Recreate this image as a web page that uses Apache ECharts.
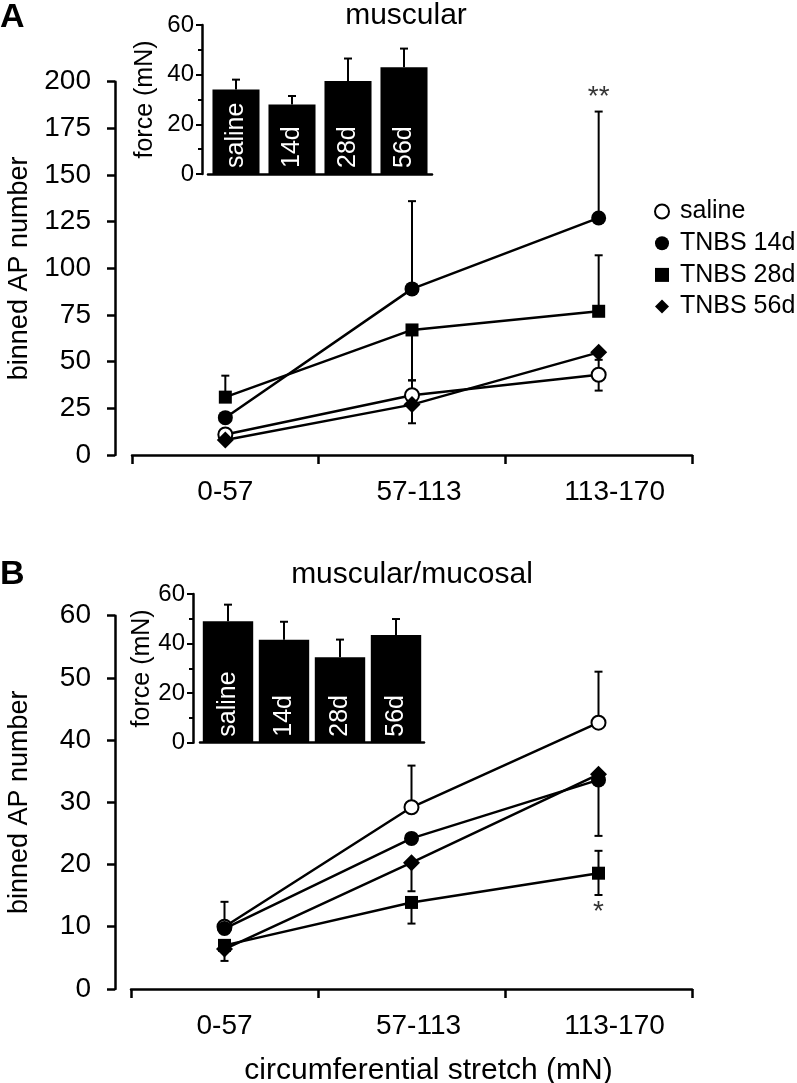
<!DOCTYPE html>
<html>
<head>
<meta charset="utf-8">
<script src="https://cdn.jsdelivr.net/npm/echarts@6/dist/echarts.min.js"></script>
<style>
html,body{margin:0;padding:0;background:#fff;}
#chart{width:797px;height:1083px;}
</style>
</head>
<body>
<div id="chart"></div>
<script>
// ---------- data ----------
const categories = ['0-57', '57-113', '113-170'];
const seriesNames = ['saline', 'TNBS 14d', 'TNBS 28d', 'TNBS 56d'];

// Panel A (muscular)
const aSaline = [11, 32, 43];
const aTnbs14 = [20, 89, 127];
const aTnbs28 = [31, 67, 77];
const aTnbs56 = [8, 27, 55];
const aSalineErrUp = [0, 8, 8];
const aSalineErrDown = [0, 0, 8.5];
const aTnbs14ErrUp = [0, 47, 57];
const aTnbs14ErrDown = [0, 0, 0];
const aTnbs28ErrUp = [11.5, 0, 30];
const aTnbs28ErrDown = [0, 27, 0];
const aTnbs56ErrUp = [0, 0, 0];
const aTnbs56ErrDown = [0, 10, 0];
const aSig = ['', '', '**'];           // above TNBS 14d

// Panel B (muscular/mucosal)
const bSaline = [10, 29.2, 42.8];
const bTnbs14 = [9.7, 24.2, 33.6];
const bTnbs28 = [7.0, 13.9, 18.6];
const bTnbs56 = [6.4, 20.3, 34.5];
const bSalineErrUp = [4, 6.7, 8.2];
const bSalineErrDown = [0, 0, 0];
const bTnbs14ErrUp = [0, 0, 0];
const bTnbs14ErrDown = [0, 0, 9];
const bTnbs28ErrUp = [0, 0, 3.6];
const bTnbs28ErrDown = [2.5, 3.4, 3.5];
const bTnbs56ErrUp = [0, 0, 0];
const bTnbs56ErrDown = [0, 4.6, 0];
const bSig = ['', '', '*'];            // below TNBS 28d

// Insets: force (mN)
const insetCategories = ['saline', '14d', '28d', '56d'];
const aForce = [34, 28, 37.5, 43];
const aForceErr = [4, 3.4, 9, 7.5];
const bForce = [49, 41.5, 34.5, 43.5];
const bForceErr = [6.7, 7.3, 7.1, 6.4];

const mainYTicks = { A: { max: 200, interval: 25 }, B: { max: 60, interval: 10 } };
const insetYTicks = { max: 60, interval: 20 };

// ---------- helpers ----------
const FONT = 'Liberation Sans, Arial, Helvetica, sans-serif';
const BLACK = '#000';
const LW = 2.5;
// horizontal nudge of each category label (the original labels sit a bit right of centre)
const catLabelPad = [0, 14, 32];

function errData(vals, up, down) {
  return vals.map((v, i) => [i, v, up[i], down[i]]);
}
function renderErr(capHalf) {
  return function (params, api) {
    const x = api.value(0), y = api.value(1), up = api.value(2), down = api.value(3);
    if (!(up > 0) && !(down > 0)) return null;
    const top = api.coord([x, y + up]);
    const bot = api.coord([x, y - down]);
    const st = { stroke: BLACK, lineWidth: 2 };
    const children = [{ type: 'line', shape: { x1: top[0], y1: top[1], x2: bot[0], y2: bot[1] }, style: st }];
    if (up > 0) children.push({ type: 'line', shape: { x1: top[0] - capHalf, y1: top[1], x2: top[0] + capHalf, y2: top[1] }, style: st });
    if (down > 0) children.push({ type: 'line', shape: { x1: bot[0] - capHalf, y1: bot[1], x2: bot[0] + capHalf, y2: bot[1] }, style: st });
    return { type: 'group', children };
  };
}
function errSeries(idx, vals, up, down, z) {
  return {
    type: 'custom', xAxisIndex: idx, yAxisIndex: idx, z: z || 2, silent: true,
    renderItem: renderErr(4), data: errData(vals, up, down)
  };
}
const markerStyles = {
  'saline':   { symbol: 'circle',  size: 14, itemStyle: { color: '#fff', borderColor: BLACK, borderWidth: 2 } },
  'TNBS 14d': { symbol: 'circle',  size: 15, itemStyle: { color: BLACK, borderColor: BLACK, borderWidth: 0 } },
  'TNBS 28d': { symbol: 'rect',    size: 13, itemStyle: { color: BLACK, borderColor: BLACK, borderWidth: 0 } },
  'TNBS 56d': { symbol: 'diamond', size: 17, itemStyle: { color: BLACK, borderColor: BLACK, borderWidth: 0 } }
};
function lineSeries(idx, name, vals) {
  const m = markerStyles[name];
  return {
    type: 'line', name, xAxisIndex: idx, yAxisIndex: idx, data: vals, z: 3,
    symbol: m.symbol, symbolSize: m.size, showSymbol: true,
    lineStyle: { color: BLACK, width: LW }, itemStyle: m.itemStyle,
    emphasis: { disabled: true }, animation: false
  };
}
function mainX(gridIndex, withName) {
  const ax = {
    type: 'category', gridIndex, boundaryGap: true,
    data: categories.map((c, i) => ({ value: c, textStyle: { padding: [0, 0, 0, catLabelPad[i]] } })),
    axisLine: { lineStyle: { color: BLACK, width: LW } },
    axisTick: { show: true, length: 9, lineStyle: { color: BLACK, width: LW } },
    axisLabel: { color: BLACK, fontSize: 28, fontFamily: FONT, margin: 23 }
  };
  if (withName) {
    ax.name = 'circumferential stretch (mN)';
    ax.nameLocation = 'middle';
    ax.nameGap = 67;
    ax.nameTextStyle = { color: BLACK, fontSize: 30, fontFamily: FONT, padding: [0, 0, 0, 34] };
  }
  return ax;
}
function mainY(gridIndex, t, offset) {
  return {
    type: 'value', gridIndex, min: 0, max: t.max, interval: t.interval, offset,
    name: 'binned AP number', nameLocation: 'middle', nameGap: 82,
    nameTextStyle: { color: BLACK, fontSize: 27, fontFamily: FONT },
    axisLine: { show: true, lineStyle: { color: BLACK, width: LW } },
    axisTick: { show: true, length: 8, lineStyle: { color: BLACK, width: LW } },
    axisLabel: { color: BLACK, fontSize: 28, fontFamily: FONT, margin: 24 },
    splitLine: { show: false }
  };
}
function insetX(gridIndex) {
  return {
    type: 'category', gridIndex, data: insetCategories, boundaryGap: true,
    axisLine: { lineStyle: { color: BLACK, width: LW } },
    axisTick: { show: false }, axisLabel: { show: false }
  };
}
function insetY(gridIndex, offset, nameGap) {
  return {
    type: 'value', gridIndex, min: 0, max: insetYTicks.max, interval: insetYTicks.interval, offset,
    name: 'force (mN)', nameLocation: 'middle', nameGap,
    nameTextStyle: { color: BLACK, fontSize: 25, fontFamily: FONT },
    axisLine: { show: true, lineStyle: { color: BLACK, width: LW } },
    axisTick: { show: true, length: 6, lineStyle: { color: BLACK, width: 2 } },
    minorTick: { show: true, splitNumber: 2, length: 4, lineStyle: { color: BLACK, width: 2 } },
    axisLabel: { color: BLACK, fontSize: 24, fontFamily: FONT, margin: 8 },
    splitLine: { show: false }, minorSplitLine: { show: false }
  };
}
function barSeries(idx, vals, gap) {
  return {
    type: 'bar', xAxisIndex: idx, yAxisIndex: idx, data: vals, barCategoryGap: gap, z: 2,
    itemStyle: { color: BLACK },
    label: {
      show: true, position: 'insideBottom', rotate: 90, align: 'left', verticalAlign: 'middle',
      distance: 6, color: '#fff', fontSize: 25, fontFamily: FONT,
      formatter: (p) => insetCategories[p.dataIndex]
    },
    emphasis: { disabled: true }
  };
}
function sigSeries(idx, vals, up, down, sig, where) {
  const data = [];
  sig.forEach((s, i) => {
    if (!s) return;
    const y = where === 'top' ? vals[i] + up[i] : vals[i] - down[i];
    data.push({ value: [i, y], label: { formatter: s } });
  });
  return {
    type: 'scatter', xAxisIndex: idx, yAxisIndex: idx, symbolSize: 1, z: 4,
    itemStyle: { color: 'rgba(0,0,0,0)' }, silent: true,
    label: { show: true, position: where, distance: where === 'top' ? 0 : 3, color: BLACK, fontSize: 28, fontFamily: FONT },
    data
  };
}

const chart = echarts.init(document.getElementById('chart'), null, { renderer: 'canvas' });
const gridBase = { containLabel: false, outerBoundsMode: 'none' };
const option = {
  animation: false,
  backgroundColor: '#fff',
  textStyle: { fontFamily: FONT },
  grid: [
    Object.assign({ left: 132, top: 81.7, width: 560, height: 373.3 }, gridBase),
    Object.assign({ left: 208, top: 25, width: 224, height: 149 }, gridBase),
    Object.assign({ left: 131, top: 615.7, width: 561, height: 373.2 }, gridBase),
    Object.assign({ left: 200, top: 594, width: 224, height: 148.7 }, gridBase)
  ],
  xAxis: [mainX(0, false), insetX(1), mainX(2, true), insetX(3)],
  yAxis: [mainY(0, mainYTicks.A, 17), insetY(1, 6, 44), mainY(2, mainYTicks.B, 16), insetY(3, 7, 38)],
  legend: {
    orient: 'vertical', left: 649, top: 194, itemWidth: 14, itemHeight: 14, itemGap: 6.7,
    textStyle: { color: BLACK, fontSize: 25, fontFamily: FONT, lineHeight: 25, padding: [0, 0, 0, 6] },
    selectedMode: false,
    data: [
      { name: 'saline', icon: 'circle', itemStyle: { color: '#fff', borderColor: BLACK, borderWidth: 2 } },
      { name: 'TNBS 14d', icon: 'circle' },
      { name: 'TNBS 28d', icon: 'rect' },
      { name: 'TNBS 56d', icon: 'diamond' }
    ]
  },
  graphic: [
    { type: 'text', left: 0, top: 1, style: { text: 'A', font: 'bold 34px ' + FONT, fill: BLACK } },
    { type: 'text', left: 0, top: 558, style: { text: 'B', font: 'bold 34px ' + FONT, fill: BLACK } },
    { type: 'text', x: 406, y: 16, style: { text: 'muscular', font: '30px ' + FONT, fill: BLACK, textAlign: 'center', textVerticalAlign: 'middle' } },
    { type: 'text', x: 412, y: 575, style: { text: 'muscular/mucosal', font: '30px ' + FONT, fill: BLACK, textAlign: 'center', textVerticalAlign: 'middle' } }
  ],
  series: [
    errSeries(0, aSaline, aSalineErrUp, aSalineErrDown),
    errSeries(0, aTnbs14, aTnbs14ErrUp, aTnbs14ErrDown),
    errSeries(0, aTnbs28, aTnbs28ErrUp, aTnbs28ErrDown),
    errSeries(0, aTnbs56, aTnbs56ErrUp, aTnbs56ErrDown),
    lineSeries(0, 'saline', aSaline),
    lineSeries(0, 'TNBS 14d', aTnbs14),
    lineSeries(0, 'TNBS 28d', aTnbs28),
    lineSeries(0, 'TNBS 56d', aTnbs56),
    sigSeries(0, aTnbs14, aTnbs14ErrUp, aTnbs14ErrDown, aSig, 'top'),

    barSeries(1, aForce, '16%'),
    errSeries(1, aForce, aForceErr, aForce.map(() => 0), 1),

    errSeries(2, bSaline, bSalineErrUp, bSalineErrDown),
    errSeries(2, bTnbs14, bTnbs14ErrUp, bTnbs14ErrDown),
    errSeries(2, bTnbs28, bTnbs28ErrUp, bTnbs28ErrDown),
    errSeries(2, bTnbs56, bTnbs56ErrUp, bTnbs56ErrDown),
    lineSeries(2, 'saline', bSaline),
    lineSeries(2, 'TNBS 14d', bTnbs14),
    lineSeries(2, 'TNBS 28d', bTnbs28),
    lineSeries(2, 'TNBS 56d', bTnbs56),
    sigSeries(2, bTnbs28, bTnbs28ErrUp, bTnbs28ErrDown, bSig, 'bottom'),

    barSeries(3, bForce, '10%'),
    errSeries(3, bForce, bForceErr, bForce.map(() => 0), 1)
  ]
};
chart.setOption(option);
</script>
</body>
</html>
